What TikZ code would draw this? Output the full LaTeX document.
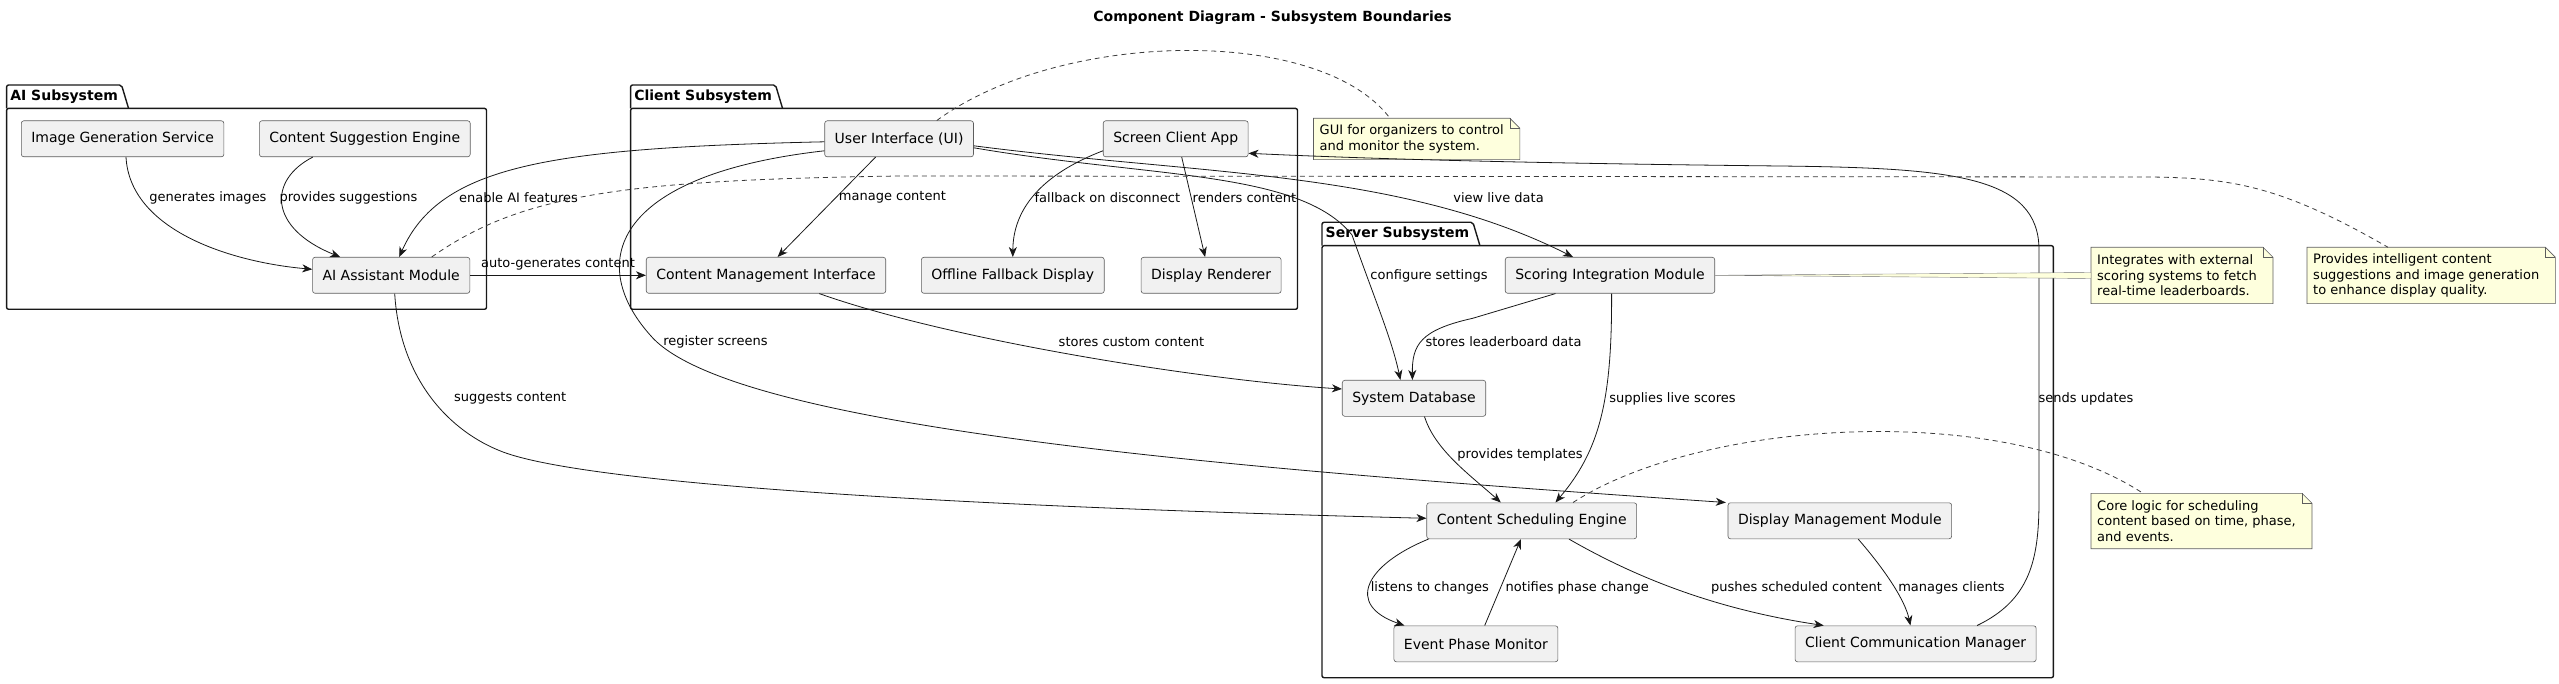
\documentclass[tikz,border=0pt]{standalone}
\usepackage{fontspec}
\setmainfont{DejaVu Sans}
\usetikzlibrary{arrows.meta,backgrounds}
\definecolor{ink}{HTML}{181818}
\definecolor{compgray}{HTML}{F1F1F1}
\definecolor{noteyellow}{HTML}{FEFFDD}
\tikzset{
  component/.style={draw=ink!70,line width=0.6pt,fill=compgray,rounded corners=2.5pt,
    minimum height=36pt,inner xsep=10pt,font=\fontsize{14}{17}\selectfont},
  pkgtab/.style={anchor=north west,inner xsep=3.5pt,inner ysep=0pt,minimum height=23pt,
    font=\fontsize{14}{17}\selectfont\bfseries},
  pkgline/.style={draw=ink,line width=1.4pt,rounded corners=2pt},
  notebox/.style={anchor=north west,align=left,inner xsep=6pt,minimum height=#1,
    font=\fontsize{13}{15.5}\selectfont},
  notepaper/.style={fill=noteyellow,draw=ink!70,line width=0.6pt},
  arrow/.style={-{Stealth[length=10pt,width=8pt,inset=3pt]},line width=0.8pt,draw=ink},
  notelink/.style={line width=0.8pt,draw=ink!85,dash pattern=on 5pt off 4pt},
  tag/.style={font=\fontsize{13}{15}\selectfont,inner sep=0pt},
  heading/.style={font=\fontsize{14}{17}\selectfont\bfseries}
}
% package frame with its tab
\newcommand{\subsystem}[5]{%
  \node[pkgtab] (#1) at (#3) {#2};
  \draw[pkgline] (#1.south west) -- (#1.north west) -- (#1.north east) -- ([xshift=7pt]#1.south east);
  \draw[pkgline] (#1.south west) rectangle (#4,#5);
}
% note paper with folded corner
\newcommand{\notepaper}[1]{%
  \begin{scope}[on background layer]
    \filldraw[notepaper] (#1.north west) -- (#1.north east) -- ([xshift=10pt,yshift=-10pt]#1.north east)
      -- ([xshift=10pt]#1.south east) -- (#1.south west) -- cycle;
    \draw[notepaper,fill=none] (#1.north east) |- ([xshift=10pt,yshift=-10pt]#1.north east);
  \end{scope}}

\begin{document}
\begin{tikzpicture}[x=1pt,y=-1pt]
  \useasboundingbox (0,0) rectangle (2559,684);
  \node[heading] (title) at (1272.5,18) {Component Diagram - Subsystem Boundaries};

  % subsystems
  \subsystem{aipkg}{AI Subsystem}{6.6,85}{486.5}{309.3}
  \subsystem{clientpkg}{Client Subsystem}{630.6,85}{1297.5}{309.3}
  \subsystem{serverpkg}{Server Subsystem}{1322,222.3}{2053.4}{677.7}

  % components
  \node[component] (igs) at (122.6,138.8) {Image Generation Service};
  \node[component] (cse_ai) at (364.8,138.8) {Content Suggestion Engine};
  \node[component] (aam) at (391.2,275.3) {AI Assistant Module};
  \node[component] (ui) at (899.1,138.8) {User Interface (UI)};
  \node[component] (sca) at (1175.7,138.8) {Screen Client App};
  \node[component] (cmi) at (766,275.3) {Content Management Interface};
  \node[component] (ofd) at (1012.8,275.3) {Offline Fallback Display};
  \node[component] (dr) at (1211.1,275.3) {Display Renderer};
  \node[component] (sim) at (1610,275.3) {Scoring Integration Module};
  \node[component] (sdb) at (1414,398.3) {System Database};
  \node[component] (cse) at (1531.7,520.8) {Content Scheduling Engine};
  \node[component] (dmm) at (1839.8,520.8) {Display Management Module};
  \node[component] (epm) at (1475.9,643.8) {Event Phase Monitor};
  \node[component] (ccm) at (1915.6,643.8) {Client Communication Manager};

  % notes
  \node[notebox=41pt] (uinote) at (1313.5,118.3)
    {GUI for organizers to control\\and monitor the system.};
  \node[notebox=56pt] (simnote) at (2091,247.3)
    {Integrates with external\\scoring systems to fetch\\real-time leaderboards.};
  \node[notebox=56pt] (ainote) at (2307,247.3)
    {Provides intelligent content\\suggestions and image generation\\to enhance display quality.};
  \node[notebox=55pt] (csenote) at (2091,493.3)
    {Core logic for scheduling\\content based on time, phase,\\and events.};
  \notepaper{uinote}
  \notepaper{simnote}
  \notepaper{ainote}
  \notepaper{csenote}

  % AI subsystem
  \draw[arrow] ([xshift=3.4pt]igs.south) .. controls (130,230) and (230,262) .. ([yshift=6pt]aam.west)
    node[tag] at (208,198) {generates images};
  \draw[arrow] ([xshift=-52pt]cse_ai.south) .. controls (268,180) and (268,228) .. ([xshift=-51pt]aam.north)
    node[tag] at (348.5,198) {provides suggestions};
  \draw[arrow] ([yshift=-3pt]ui.west) .. controls (550,148) and (440,165) .. ([xshift=8pt]aam.north)
    node[tag] at (518.5,198) {enable AI features};
  \draw[arrow] (aam.east) -- (cmi.west) node[tag] at (558,264) {auto-generates content};
  \draw[arrow] ([xshift=3.5pt]aam.south) .. controls (400,380) and (450,432) .. (503,452)
    .. controls (580,481) and (900,505) .. ([yshift=2.5pt]cse.west)
    node[tag] at (510.2,398.7) {suggests content};

  % client subsystem
  \draw[arrow] ([xshift=-23.5pt]ui.south) -- ([xshift=11.6pt]cmi.north)
    node[tag] at (892.4,197.7) {manage content};
  \draw[arrow] ([yshift=-12pt]ui.west) .. controls (610,175) and (585,265) .. (652.8,338)
    .. controls (740,430) and (1250,470) .. ([xshift=-114pt]dmm.north)
    node[tag] at (715.4,341.7) {register screens};
  \draw[arrow] ([yshift=-9pt]ui.east) .. controls (1150,178) and (1300,170) .. (1352,235)
    .. controls (1375,300) and (1392,340) .. ([xshift=-13.6pt]sdb.north)
    node[tag] at (1429,275.7) {configure settings};
  \draw[arrow] ([yshift=-7pt]ui.east) .. controls (1200,175) and (1400,170) .. ([xshift=-37pt]sim.north)
    node[tag] at (1498.5,197.7) {view live data};
  \draw[arrow] ([yshift=-12pt]sca.west) .. controls (1040,175) and (1013,210) .. (ofd.north)
    node[tag] at (1107.4,198) {fallback on disconnect};
  \draw[arrow] ([xshift=6pt]sca.south) -- ([xshift=-6pt]dr.north)
    node[tag] at (1244.5,198) {renders content};
  \draw[arrow] ([xshift=53.3pt]cmi.south) .. controls (950,340) and (1200,380) .. ([yshift=9.3pt]sdb.west)
    node[tag] at (1131.5,341.7) {stores custom content};

  % server subsystem
  \draw[arrow] ([xshift=-54.6pt]sim.south) -- (1472.7,318.3) .. controls (1420,330) and (1412,345) .. ([xshift=-1.6pt]sdb.north)
    node[tag] at (1503.5,341.7) {stores leaderboard data};
  \draw[arrow] ([xshift=1.6pt]sim.south) .. controls (1612,400) and (1600,450) .. ([xshift=23.7pt]cse.north)
    node[tag] at (1672.5,399) {supplies live scores};
  \draw[arrow] ([xshift=10.5pt]sdb.south) .. controls (1435,450) and (1470,475) .. ([xshift=-30.9pt]cse.north)
    node[tag] at (1520,455) {provides templates};
  \draw[arrow] ([xshift=2pt]cse.south west) .. controls (1365,565) and (1345,605) .. ([xshift=-71.5pt]epm.north)
    node[tag] at (1429.8,587.7) {listens to changes};
  \draw[arrow] ([xshift=8.8pt]epm.north) -- ([xshift=-10.8pt]cse.south)
    node[tag] at (1577.3,587.7) {notifies phase change};
  \draw[arrow] ([xshift=37.3pt]cse.south) .. controls (1640,580) and (1720,610) .. ([xshift=-91.9pt]ccm.north)
    node[tag] at (1796.5,587.7) {pushes scheduled content};
  \draw[arrow] ([xshift=18.4pt]dmm.south) .. controls (1885,570) and (1905,600) .. ([xshift=-5.2pt]ccm.north)
    node[tag] at (1951.5,587.7) {manages clients};
  \draw[arrow] ([xshift=61.5pt]ccm.north) .. controls (2030,600) and (2039,560) .. (2039,500) -- (2039,250)
    .. controls (2039,175) and (1950,168) .. (1780,166)
    .. controls (1500,163) and (1350,158) .. ([yshift=-14.5pt]sca.east)
    node[tag] at (2086,399) {sends updates};

  % note links
  \draw[notelink] ([xshift=37.7pt]ui.north) .. controls (1060,30) and (1320,25) .. ([xshift=76.5pt]uinote.north west);
  \draw[notelink] ([xshift=40.5pt]aam.north) .. controls (520,195) and (620,180) .. (900,176)
    -- (2150,177) .. controls (2230,178) and (2280,185) .. ([xshift=81pt]ainote.north west);
  \filldraw[fill=noteyellow,draw=ink!60,line width=0.4pt] (sim.east) -- ([yshift=3pt]simnote.west)
    -- ([yshift=-3pt]simnote.west) -- cycle;
  \draw[notelink] ([xshift=41.3pt]cse.north) .. controls (1700,420) and (2000,400) .. ([xshift=52pt]csenote.north west);
\end{tikzpicture}
\end{document}
